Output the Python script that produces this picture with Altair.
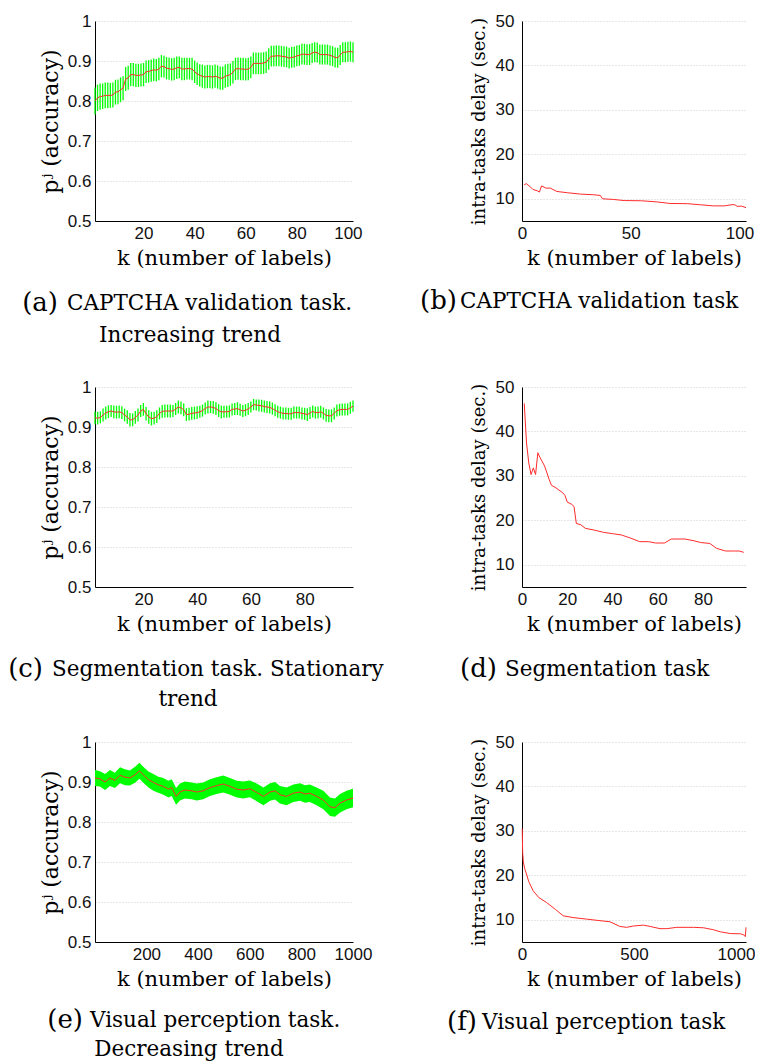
import altair as alt
import pandas as pd

# ---------------- data ----------------
# (a) CAPTCHA validation task: accuracy p^j vs k
a_k = list(range(1, 103))
a_p = [0.800, 0.808, 0.811, 0.812, 0.814, 0.814, 0.814, 0.815, 0.822, 0.823,
       0.828, 0.832, 0.855, 0.858, 0.866, 0.866, 0.864, 0.864, 0.865, 0.866,
       0.873, 0.874, 0.876, 0.878, 0.877, 0.880, 0.887, 0.886, 0.882, 0.881,
       0.879, 0.880, 0.883, 0.884, 0.880, 0.880, 0.881, 0.881, 0.880, 0.873,
       0.868, 0.864, 0.862, 0.860, 0.861, 0.861, 0.860, 0.862, 0.860, 0.857,
       0.857, 0.862, 0.864, 0.866, 0.872, 0.880, 0.881, 0.880, 0.880, 0.879,
       0.880, 0.884, 0.894, 0.894, 0.894, 0.894, 0.895, 0.897, 0.905, 0.912,
       0.912, 0.913, 0.913, 0.912, 0.911, 0.910, 0.907, 0.909, 0.910, 0.913,
       0.914, 0.917, 0.917, 0.916, 0.916, 0.920, 0.922, 0.921, 0.916, 0.916,
       0.916, 0.916, 0.914, 0.912, 0.909, 0.908, 0.915, 0.922, 0.922, 0.923,
       0.924, 0.922]
a_err = [0.034, 0.033, 0.033, 0.032, 0.032, 0.032, 0.031, 0.031, 0.031, 0.031,
         0.031, 0.030, 0.030, 0.030, 0.029, 0.029, 0.029, 0.029, 0.029, 0.029,
         0.028, 0.028, 0.028, 0.028, 0.028, 0.028, 0.028, 0.027, 0.028, 0.028,
         0.028, 0.028, 0.028, 0.027, 0.028, 0.028, 0.027, 0.027, 0.028, 0.028,
         0.028, 0.028, 0.029, 0.029, 0.029, 0.029, 0.029, 0.029, 0.029, 0.029,
         0.029, 0.029, 0.029, 0.028, 0.028, 0.028, 0.028, 0.028, 0.028, 0.028,
         0.028, 0.027, 0.027, 0.027, 0.027, 0.027, 0.027, 0.027, 0.027, 0.026,
         0.026, 0.026, 0.026, 0.026, 0.026, 0.026, 0.026, 0.026, 0.026, 0.026,
         0.026, 0.026, 0.026, 0.026, 0.026, 0.025, 0.025, 0.025, 0.025, 0.025,
         0.025, 0.025, 0.025, 0.025, 0.025, 0.025, 0.025, 0.025, 0.025, 0.025,
         0.025, 0.025]

# (b) CAPTCHA validation task: intra-task delay
b_k = [1, 2, 4, 5, 7, 8, 9, 11, 13, 16, 21, 27, 33, 36, 37, 42, 47, 55, 62, 68,
       76, 82, 88, 93, 97, 98, 99, 101, 103]
b_d = [13.15, 13.4, 12.6, 12.1, 11.8, 11.5, 12.9, 12.4, 12.4, 11.65, 11.35, 11.05,
       10.9, 10.75, 10.0, 9.85, 9.6, 9.55, 9.3, 8.95, 8.9, 8.65, 8.4, 8.4, 8.7,
       8.6, 8.3, 8.35, 8.0]

# (c) Segmentation task: accuracy
c_k = list(range(2, 99))
c_p = [0.923, 0.922, 0.924, 0.930, 0.935, 0.938, 0.940, 0.938, 0.937, 0.938,
       0.936, 0.930, 0.925, 0.918, 0.918, 0.924, 0.930, 0.940, 0.944, 0.933,
       0.925, 0.921, 0.922, 0.926, 0.934, 0.939, 0.940, 0.940, 0.940, 0.940,
       0.945, 0.950, 0.948, 0.943, 0.931, 0.932, 0.934, 0.935, 0.936, 0.938,
       0.941, 0.946, 0.950, 0.950, 0.949, 0.946, 0.941, 0.938, 0.938, 0.938,
       0.939, 0.944, 0.945, 0.946, 0.943, 0.940, 0.942, 0.945, 0.950, 0.956,
       0.955, 0.954, 0.953, 0.951, 0.950, 0.949, 0.946, 0.942, 0.938, 0.936,
       0.934, 0.934, 0.933, 0.933, 0.936, 0.936, 0.936, 0.934, 0.933, 0.931,
       0.935, 0.939, 0.936, 0.936, 0.938, 0.934, 0.929, 0.928, 0.928, 0.934,
       0.941, 0.943, 0.944, 0.944, 0.944, 0.948, 0.952]
c_err = [0.016, 0.016, 0.015, 0.016, 0.016, 0.016, 0.015, 0.016, 0.016, 0.016,
         0.016, 0.016, 0.017, 0.017, 0.016, 0.016, 0.016, 0.015, 0.016, 0.017,
         0.017, 0.017, 0.016, 0.016, 0.015, 0.016, 0.016, 0.016, 0.016, 0.015,
         0.015, 0.016, 0.016, 0.016, 0.016, 0.016, 0.016, 0.016, 0.016, 0.015,
         0.015, 0.015, 0.016, 0.015, 0.016, 0.016, 0.016, 0.016, 0.015, 0.015,
         0.015, 0.015, 0.015, 0.016, 0.015, 0.015, 0.015, 0.015, 0.014, 0.014,
         0.014, 0.015, 0.015, 0.015, 0.015, 0.015, 0.015, 0.015, 0.015, 0.015,
         0.015, 0.015, 0.015, 0.015, 0.015, 0.015, 0.015, 0.015, 0.015, 0.016,
         0.015, 0.015, 0.015, 0.015, 0.015, 0.015, 0.016, 0.016, 0.016, 0.015,
         0.015, 0.015, 0.015, 0.015, 0.015, 0.015, 0.014]

# (d) Segmentation task: intra-task delay
d_k = [1, 2, 3, 4, 5, 6, 7, 8, 10, 12, 13, 15, 18, 19, 20, 22, 23, 24, 26, 28,
       32, 36, 40, 44, 48, 52, 56, 59, 63, 66, 72, 76, 79, 83, 86, 90, 94, 96, 98]
d_d = [46.3, 37.4, 32.9, 30.3, 31.8, 30.3, 35.2, 34.1, 32.2, 29.2, 27.9, 27.3,
       26.2, 25.6, 24.1, 23.6, 23.1, 19.3, 19.0, 18.2, 17.8, 17.3, 17.0, 16.7,
       16.0, 15.2, 15.2, 14.9, 14.9, 15.8, 15.8, 15.4, 15.0, 14.8, 13.7, 13.1,
       13.1, 13.1, 12.8]

# (e) Visual perception task: accuracy
e_k = [1, 20, 40, 59, 78, 98, 117, 136, 156, 173, 188, 208, 227, 246, 266, 285,
       298, 315, 330, 349, 375, 395, 420, 446, 472, 498, 524, 550, 575, 601, 627,
       653, 679, 698, 717, 743, 769, 795, 814, 833, 859, 885, 911, 930, 950, 975,
       1000]
e_p = [0.910, 0.908, 0.900, 0.910, 0.904, 0.917, 0.912, 0.910, 0.918, 0.928,
       0.918, 0.906, 0.899, 0.893, 0.889, 0.882, 0.886, 0.864, 0.875, 0.880,
       0.878, 0.875, 0.878, 0.886, 0.891, 0.895, 0.889, 0.882, 0.880, 0.883,
       0.874, 0.864, 0.875, 0.878, 0.868, 0.864, 0.872, 0.875, 0.870, 0.872,
       0.864, 0.855, 0.838, 0.836, 0.847, 0.855, 0.860]
e_err = [0.020, 0.019, 0.020, 0.020, 0.019, 0.020, 0.020, 0.019, 0.020, 0.020,
         0.020, 0.020, 0.021, 0.020, 0.021, 0.021, 0.021, 0.021, 0.021, 0.021,
         0.021, 0.021, 0.021, 0.021, 0.021, 0.021, 0.021, 0.021, 0.021, 0.021,
         0.022, 0.022, 0.022, 0.022, 0.022, 0.022, 0.022, 0.022, 0.022, 0.022,
         0.022, 0.023, 0.023, 0.023, 0.023, 0.023, 0.023]

# (f) Visual perception task: intra-task delay
f_k = [1, 3, 6, 12, 20, 30, 50, 75, 109, 150, 184, 228, 288, 348, 393, 437, 467,
       497, 542, 572, 616, 646, 691, 766, 810, 855, 885, 930, 975, 990, 997, 1000]
f_d = [30.5, 25.0, 23.0, 21.5, 20.3, 18.6, 16.5, 15.0, 13.9, 12.3, 10.9, 10.5,
       10.15, 9.8, 9.55, 8.5, 8.3, 8.6, 8.8, 8.5, 8.0, 8.0, 8.3, 8.3, 8.2, 7.75,
       7.3, 6.9, 6.85, 6.6, 6.2, 8.3]

# captions
cap_tag = ["(a)", "(b)", "(c)", "(d)", "(e)", "(f)"]
cap_line1 = ["CAPTCHA validation task.", "CAPTCHA validation task",
             "Segmentation task. Stationary", "Segmentation task",
             "Visual perception task.", "Visual perception task"]
cap_line2 = ["Increasing trend", "", "trend", "", "Decreasing trend", ""]

x_title = "k (number of labels)"
acc_title = "pʲ (accuracy)"
delay_title = "intra-tasks delay (sec.)"

acc_ticks = [0.5, 0.6, 0.7, 0.8, 0.9, 1.0]
delay_ticks = [10, 20, 30, 40, 50]

# ---------------- styling ----------------
LW, RW, H = 258, 224, 200
GREEN = "#00ff00"
RED = "#ff2b2b"
SERIF = "DejaVu Serif"


def x_enc(xdom, xvals, last_shift=0):
    return alt.X("k:Q", scale=alt.Scale(domain=xdom, nice=False, zero=False),
                 axis=alt.Axis(values=xvals, title=x_title, grid=False,
                               labelFlush=False, labelPadding=4, titlePadding=6,
                               titleFontSize=21, format="d",
                               labelOffset=alt.condition(
                                   f"datum.value == {xvals[-1]}",
                                   alt.value(last_shift), alt.value(0))))


def caption_layers(i, tag_x, text_x, l2_x, y1, y2):
    out = []
    out.append(alt.Chart(pd.DataFrame({"t": [cap_tag[i]]})).mark_text(
        font=SERIF, fontSize=26, align="right", baseline="middle", color="black"
    ).encode(text="t:N", x=alt.value(tag_x), y=alt.value(y1)))
    out.append(alt.Chart(pd.DataFrame({"t": [cap_line1[i]]})).mark_text(
        font=SERIF, fontSize=21.5, align="left", baseline="middle", color="black"
    ).encode(text="t:N", x=alt.value(text_x), y=alt.value(y1 + 1)))
    if cap_line2[i]:
        out.append(alt.Chart(pd.DataFrame({"t": [cap_line2[i]]})).mark_text(
            font=SERIF, fontSize=21.5, align="center", baseline="middle", color="black"
        ).encode(text="t:N", x=alt.value(l2_x), y=alt.value(y2)))
    return out


def spacer(bottom_y):
    # invisible layout guides: common left edge and bottom extent of a row
    g = alt.Chart(pd.DataFrame({"t": ["."]}))
    return [g.mark_text(opacity=0, fontSize=10, align="left", baseline="middle").encode(
                text="t:N", x=alt.value(-87), y=alt.value(100)),
            g.mark_text(opacity=0, fontSize=10, align="left", baseline="middle").encode(
                text="t:N", x=alt.value(0), y=alt.value(bottom_y))]


def acc_panel(k, p, err, xdom, xvals, band, cap, bottom_y):
    df = pd.DataFrame({"k": k, "p": p,
                       "lo": [v - e for v, e in zip(p, err)],
                       "hi": [v + e for v, e in zip(p, err)]})
    base = alt.Chart(df)
    y_axis = alt.Axis(values=acc_ticks, title=acc_title, format=".1~f",
                      labelPadding=4, titlePadding=5, titleFontSize=22,
                      labelOverlap=False)
    ysc = alt.Scale(domain=[0.5, 1.0], nice=False, zero=False)
    if band:
        err_layer = base.mark_area(color=GREEN, opacity=1).encode(
            x=x_enc(xdom, xvals), y=alt.Y("lo:Q", scale=ysc, axis=y_axis), y2="hi:Q")
    else:
        err_layer = base.mark_rule(color=GREEN, strokeWidth=1.3).encode(
            x=x_enc(xdom, xvals), y=alt.Y("lo:Q", scale=ysc, axis=y_axis), y2="hi:Q")
    line = base.mark_line(color=RED, strokeWidth=1).encode(
        x=x_enc(xdom, xvals), y=alt.Y("p:Q", scale=ysc, axis=y_axis))
    return alt.layer(err_layer, line, *caption_layers(*cap),
                     *spacer(bottom_y)).properties(width=LW, height=H)


def delay_panel(k, d, xdom, xvals, cap, last_shift=0):
    df = pd.DataFrame({"k": k, "d": d})
    line = alt.Chart(df).mark_line(color=RED, strokeWidth=1).encode(
        x=x_enc(xdom, xvals, last_shift),
        y=alt.Y("d:Q", scale=alt.Scale(domain=[5, 50], nice=False, zero=False),
                axis=alt.Axis(values=delay_ticks, title=delay_title, format="d",
                              labelPadding=8, titlePadding=7, titleFontSize=18,
                              labelOverlap=False)))
    return alt.layer(line, *caption_layers(*cap)).properties(width=RW, height=H)


pa = acc_panel(a_k, a_p, a_err, [1, 102], [20, 40, 60, 80, 100], False,
               (0, -37, -28, 95, 282, 315), 350)
pb = delay_panel(b_k, b_d, [0, 103], [0, 50, 100], (1, -65, -62, 58, 280, 0))
pc = acc_panel(c_k, c_p, c_err, [2, 98], [20, 40, 60, 80], False,
               (2, -52, -43, 93, 282, 313), 339)
pd_ = delay_panel(d_k, d_d, [0, 99], [0, 20, 40, 60, 80], (3, -25, -17, 58, 282, 0))
pe = acc_panel(e_k, e_p, e_err, [1, 1000], [200, 400, 600, 800, 1000], True,
               (4, -12, -5, 94, 278, 308), 300)
pf = delay_panel(f_k, f_d, [0, 1000], [0, 500, 1000], (5, -45, -40, 58, 280, 0),
                 last_shift=-10)

row1 = alt.hconcat(pa, pb, spacing=169, bounds="flush")
row2 = alt.hconcat(pc, pd_, spacing=169, bounds="flush")
row3 = alt.hconcat(pe, pf, spacing=169, bounds="flush")

chart = alt.vconcat(row1, row2, row3, spacing=2, bounds="full").properties(
    padding={"left": 0, "top": 4, "right": 0, "bottom": 0}
).configure_view(strokeWidth=0).configure_axis(
    labelFont="Liberation Sans", labelFontSize=17, labelColor="#111",
    labelOverlap=False,
    titleFont=SERIF, titleFontWeight="normal", titleColor="black",
    domainColor="black", domainWidth=1, tickSize=0, ticks=False,
    gridColor="#cfcfcf", gridDash=[1, 2], gridWidth=1
)

chart.save("out.html", embed_options={"renderer": "svg", "actions": False})
